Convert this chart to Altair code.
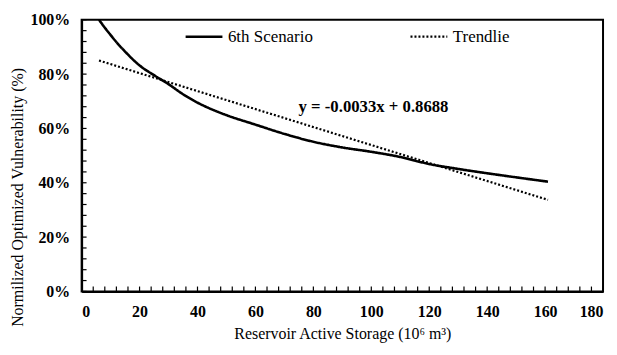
import altair as alt
import pandas as pd

# --- data ---
storage = [6, 8, 10, 12, 15, 20, 25, 30, 35, 40, 45, 50, 60, 70, 80, 90, 100, 110, 120, 130, 140, 150, 161]
vulnerability = [100, 97.1, 94.4, 91.8, 88.3, 83.2, 79.6, 76.3, 72.6, 69.5, 67.0, 64.9, 61.4, 58.0, 55.1, 53.0, 51.4, 49.5, 46.9, 45.1, 43.5, 42.0, 40.4]
trend_x = [6, 161]
trend_y = [85.0, 33.7]
series_names = ["6th Scenario", "Trendlie"]
equation = ["y = -0.0033x + 0.8688"]
x_ticks = list(range(0, 181, 20))
y_ticks = list(range(0, 101, 20))
x_minor = list(range(0, 181, 4))
y_minor = list(range(0, 101, 4))

FONT = "Liberation Serif"

curve = pd.DataFrame({"x": storage, "y": vulnerability, "series": series_names[0]})
trend = pd.DataFrame({"x": trend_x, "y": trend_y, "series": series_names[1]})
lines = pd.concat([curve, trend], ignore_index=True)

xscale = alt.Scale(domain=[0, 180], nice=False, zero=False)
yscale = alt.Scale(domain=[0, 100], nice=False)

line_chart = alt.Chart(lines).mark_line(color="black", interpolate="monotone").encode(
    x=alt.X("x:Q", scale=xscale,
            axis=alt.Axis(values=x_ticks, title="Reservoir Active Storage (10⁶ m³)",
                          labelPadding=12, titlePadding=6, labelFontWeight="bold",
                          labelFont=FONT, titleFont=FONT,
                          labelFontSize=16, titleFontSize=16, titleFontWeight="normal")),
    y=alt.Y("y:Q", scale=yscale,
            axis=alt.Axis(values=y_ticks, title="Normilized Optimized Vulnerability (%)",
                          labelExpr="datum.value + '%'", labelPadding=12,
                          labelFont=FONT, titleFont=FONT,
                          labelFontWeight="bold", labelFontSize=16,
                          titleFontSize=16, titleFontWeight="normal",
                          titleX=-64, titleY=178, titleBaseline="middle", titleAlign="center")),
    strokeDash=alt.StrokeDash(
        "series:N",
        scale=alt.Scale(domain=series_names, range=[[1, 0], [2, 2]]),
        legend=alt.Legend(title=None, orient="none", legendX=103, legendY=-3,
                          direction="horizontal", symbolType="stroke", symbolSize=1369,
                          symbolStrokeWidth=2, symbolStrokeColor="black",
                          labelFont=FONT, labelFontSize=17, labelColor="black",
                          labelOffset=4, columnPadding=93),
    ),
    strokeWidth=alt.StrokeWidth("series:N", scale=alt.Scale(domain=series_names, range=[2.6, 2.2]),
                                legend=None),
)

xminor = alt.Chart(pd.DataFrame({"x": x_minor})).mark_rule(color="black", strokeWidth=1.2).encode(
    x=alt.X("x:Q", scale=xscale),
    y=alt.datum(0),
    y2=alt.datum(1.8),
)
yminor = alt.Chart(pd.DataFrame({"y": y_minor})).mark_rule(color="black", strokeWidth=1.2).encode(
    y=alt.Y("y:Q", scale=yscale),
    x=alt.datum(0),
    x2=alt.datum(1.7),
)

eq = alt.Chart(pd.DataFrame({"x": [74.9], "y": [67.8], "t": equation})).mark_text(
    align="left", baseline="middle", font=FONT, fontSize=16.8, fontWeight="bold", color="black"
).encode(x=alt.X("x:Q", scale=xscale), y=alt.Y("y:Q", scale=yscale), text="t:N")

chart = alt.layer(xminor, yminor, line_chart, eq).properties(
    width=524, height=273,
    background="white",
    autosize=alt.AutoSizeParams(type="none"),
    padding={"left": 74, "top": 11, "right": 6, "bottom": 55},
).configure_view(
    stroke="black", strokeWidth=2
).configure_axis(
    domainColor="black", domainWidth=2, ticks=False, grid=False,
    labelColor="black", titleColor="black", labelFont=FONT, titleFont=FONT,
)

chart.save("out.html", embed_options={"renderer": "svg", "actions": False})
